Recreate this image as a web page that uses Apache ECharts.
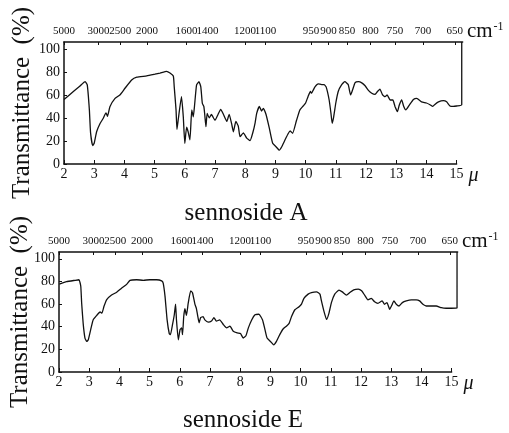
<!DOCTYPE html>
<html>
<head>
<meta charset="utf-8">
<script src="https://cdn.jsdelivr.net/npm/echarts@6/dist/echarts.min.js"></script>
<style>
html, body { margin: 0; padding: 0; background: #fff; }
#chart { width: 509px; height: 433px; }
</style>
</head>
<body>
<div id="chart"></div>
<script>
// IR spectra: wavelength (µ) and transmittance (%)
const micronA = [2.0, 2.31, 2.53, 2.70, 2.77, 2.84, 2.88, 2.95, 3.0, 3.08, 3.19, 3.30, 3.39, 3.44, 3.52, 3.69, 3.85, 4.02, 4.24, 4.41,
  4.74, 5.01, 5.18, 5.40, 5.51, 5.62, 5.65, 5.71, 5.74, 5.78, 5.89, 5.95, 6.0, 6.06, 6.11, 6.17, 6.23, 6.28, 6.32, 6.39,
  6.47, 6.53, 6.58, 6.63, 6.66, 6.70, 6.74, 6.81, 6.88, 7.0, 7.1, 7.19, 7.28, 7.39, 7.47, 7.55, 7.61, 7.69, 7.77, 7.83,
  7.94, 8.05, 8.16, 8.26, 8.33, 8.38, 8.47, 8.54, 8.60, 8.69, 8.80, 8.91, 9.02, 9.13, 9.21, 9.32, 9.43, 9.49, 9.57, 9.70,
  9.81, 9.92, 10.0, 10.08, 10.16, 10.19, 10.31, 10.42, 10.53, 10.61, 10.68, 10.78, 10.84, 10.88, 10.93, 11.0, 11.08, 11.19, 11.30, 11.41,
  11.49, 11.55, 11.64, 11.75, 11.86, 11.97, 12.08, 12.19, 12.30, 12.38, 12.46, 12.55, 12.63, 12.70, 12.80, 12.89, 12.96, 13.04, 13.10, 13.18,
  13.25, 13.32, 13.43, 13.57, 13.68, 13.84, 14.0, 14.12, 14.21, 14.29, 14.40, 14.56, 14.67, 14.78, 14.89, 15.0, 15.17, 15.17]
const transA = [56, 63, 67.8, 71.5, 68.7, 47, 27, 16, 18, 28, 35, 39.7, 44.5, 41.5, 49.8, 57, 60, 65.8, 73, 75.4,
  76.5, 78, 79, 80.5, 79, 76.5, 67, 47, 30, 38, 58.5, 41, 18, 32, 28, 21, 47, 41, 50, 68.7,
  71.5, 67, 52.8, 50, 43, 32.4, 44, 40, 43, 38, 43, 47.5, 43, 37, 43.2, 35, 28, 37, 33, 23.7,
  27, 22.5, 20.3, 28, 36, 44, 50, 46, 48.4, 43, 31, 18, 15, 12, 15, 21, 26.7, 28.7, 26.7, 38,
  47, 50.4, 53, 58.5, 63, 61.5, 67, 69.6, 69, 69, 67, 55.6, 44, 35.4, 41, 53, 63, 68.7, 71.5, 69,
  60, 64, 70.7, 71.5, 70.5, 68, 64, 61.5, 60.5, 63, 65, 60, 58.5, 60, 55.6, 55.6, 50, 45.5, 51, 55.6,
  50, 47, 51, 56, 57, 54, 53, 51.5, 50, 52, 54, 55, 54, 50.4, 50, 50.4, 51.5, 106]

const micronB = [2.01, 2.25, 2.53, 2.66, 2.72, 2.75, 2.80, 2.86, 2.92, 2.97, 3.05, 3.13, 3.25, 3.36, 3.42, 3.49, 3.58, 3.74, 3.91, 4.07,
  4.24, 4.35, 4.57, 4.79, 5.01, 5.23, 5.40, 5.45, 5.51, 5.58, 5.65, 5.69, 5.76, 5.82, 5.86, 5.89, 5.95, 6.01, 6.06, 6.09,
  6.13, 6.17, 6.22, 6.28, 6.36, 6.42, 6.50, 6.55, 6.59, 6.64, 6.69, 6.77, 6.83, 6.94, 7.05, 7.13, 7.21, 7.32, 7.44, 7.55,
  7.66, 7.77, 7.90, 8.01, 8.10, 8.19, 8.27, 8.38, 8.49, 8.62, 8.74, 8.82, 8.89, 9.0, 9.11, 9.2, 9.31, 9.42, 9.53, 9.62,
  9.70, 9.81, 9.95, 10.03, 10.11, 10.25, 10.36, 10.53, 10.64, 10.69, 10.77, 10.86, 10.94, 11.02, 11.13, 11.27, 11.38, 11.52, 11.63, 11.76,
  11.91, 12.02, 12.12, 12.23, 12.34, 12.45, 12.56, 12.70, 12.78, 12.86, 12.95, 13.02, 13.09, 13.17, 13.26, 13.37, 13.50, 13.67, 13.83, 13.94,
  14.05, 14.16, 14.33, 14.49, 14.66, 14.82, 14.99, 15.18, 15.18]
const transB = [77.7, 79.8, 81, 81.5, 76, 61, 43, 30, 27, 28.5, 37.5, 46, 50, 53, 52, 58, 64, 68, 70.5, 74,
  77.4, 81, 81.5, 81, 81.5, 81.5, 80.5, 78.5, 67, 46, 34, 33, 42, 51, 60, 46, 28.5, 37.5, 39, 33,
  49, 56, 50, 61, 71.7, 70, 60, 56, 50, 43.5, 48, 49, 46, 44, 45, 48, 45, 46, 42, 39,
  40.5, 36, 34.5, 34, 30, 32, 39, 46, 50.5, 51, 46, 37.5, 30, 27, 24, 27, 33, 38, 40.5, 43,
  49, 55, 57.7, 60, 65, 68.8, 70.2, 70.8, 68.8, 62.8, 54, 46.4, 52, 61.3, 68.8, 72.3, 70.8, 67.9, 70.2, 72.6,
  73.2, 71.7, 67.9, 63.7, 65, 62, 60.7, 62.8, 59.8, 61.3, 55.4, 59, 62.8, 59.8, 58.3, 61.3, 62.8, 63.7, 63.7, 62.8,
  59.8, 58.3, 58.3, 58.3, 56.8, 56.3, 56.3, 56.5, 106]

const yTicks = [0, 20, 40, 60, 80, 100]
// wavenumber labels of the top scale and where they sit on the µ scale
const waveLabels = ['5000', '3000', '2500', '2000', '1600', '1400', '1200', '1100', '950', '900', '850', '800', '750', '700', '650']
const wavePos = [2.0, 3.14, 3.86, 4.75, 6.06, 6.75, 7.99, 8.67, 10.18, 10.76, 11.37, 12.15, 12.96, 13.89, 14.94]
const titles = ['sennoside A', 'sennoside E']

const serif = 'Liberation Serif, Times New Roman, serif'
const ink = '#111'

const grids = []
const xAxes = []
const yAxes = []
const series = []
const titleList = []

function addPanel (i, left, top, height, nameGap, titleX, titleTop, micron, trans) {
  const g = grids.length
  grids.push({ left: left, top: top, width: 13.2 * 30.2, height: height })
  grids.push({ left: left, top: top, width: 13 * 30.2, height: height })

  // top scale in cm-1, carries the spectrum
  xAxes.push({
    type: 'value',
    gridIndex: g,
    position: 'top',
    min: 2,
    max: 15.2,
    axisLine: { onZero: false, lineStyle: { color: ink, width: 1.5 } },
    axisTick: { inside: true, length: 3, customValues: wavePos, lineStyle: { color: ink } },
    axisLabel: {
      customValues: wavePos,
      showMinLabel: true,
      showMaxLabel: true,
      hideOverlap: false,
      formatter: function (v) {
        let k = 0
        wavePos.forEach(function (p, j) { if (Math.abs(p - v) < Math.abs(wavePos[k] - v)) k = j })
        return waveLabels[k]
      },
      color: ink,
      fontFamily: serif,
      fontSize: 11,
      margin: 5
    },
    splitLine: { show: false },
    name: '{c|cm}{s|-1}',
    nameLocation: 'end',
    nameGap: 3,
    nameTextStyle: {
      verticalAlign: 'bottom',
      rich: {
        c: { fontFamily: serif, fontSize: 21, color: ink },
        s: { fontFamily: serif, fontSize: 12, color: ink, verticalAlign: 'top', padding: [0, 0, 8, 1] }
      }
    }
  })
  // bottom scale in µ, ends at 15
  xAxes.push({
    type: 'value',
    gridIndex: g + 1,
    position: 'bottom',
    min: 2,
    max: 15,
    interval: 1,
    axisLine: { onZero: false, lineStyle: { color: ink, width: 1.5 } },
    axisTick: { inside: true, length: 4, lineStyle: { color: ink } },
    axisLabel: { color: ink, fontFamily: serif, fontSize: 14, margin: 3 },
    splitLine: { show: false },
    name: 'μ',
    nameLocation: 'end',
    nameGap: 12,
    nameTextStyle: { fontFamily: serif, fontStyle: 'italic', fontSize: 20, color: ink, verticalAlign: 'top', padding: [2, 0, 0, 0] }
  })
  yAxes.push({
    type: 'value',
    gridIndex: g,
    min: 0,
    max: 106,
    axisLine: { show: true, onZero: false, lineStyle: { color: ink, width: 1.5 } },
    axisTick: { show: true, inside: true, length: 3, customValues: yTicks, lineStyle: { color: ink } },
    axisLabel: { customValues: yTicks, color: ink, fontFamily: serif, fontSize: 14, margin: 4 },
    splitLine: { show: false },
    name: 'Transmittance  (%)',
    nameLocation: 'middle',
    nameGap: nameGap,
    nameMoveOverlap: false,
    nameTextStyle: { fontFamily: serif, fontSize: 25, color: ink }
  })
  yAxes.push({ type: 'value', gridIndex: g + 1, min: 0, max: 106, show: false })

  series.push({
    type: 'line',
    xAxisIndex: g,
    yAxisIndex: g,
    showSymbol: false,
    smooth: 0.15,
    lineStyle: { color: ink, width: 1.3 },
    data: micron.map(function (m, k) { return [m, trans[k]] })
  })

  titleList.push({
    text: titles[i],
    left: titleX,
    top: titleTop,
    textAlign: 'center',
    textStyle: { fontFamily: serif, fontSize: 25, fontWeight: 'normal', color: ink }
  })
}

addPanel(0, 64, 42, 122, 29, 241, 196, micronA, transA)
addPanel(1, 59, 252, 120, 26, 238, 403, micronB, transB)

const chart = echarts.init(document.getElementById('chart'))
chart.setOption({
  backgroundColor: '#fff',
  animation: false,
  title: titleList,
  grid: grids,
  xAxis: xAxes,
  yAxis: yAxes,
  series: series
})
</script>
</body>
</html>
